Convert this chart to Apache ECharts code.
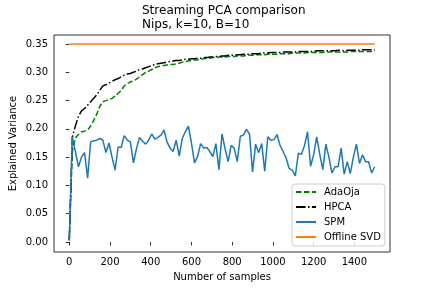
<!DOCTYPE html>
<html>
<head>
<meta charset="utf-8">
<script src="https://cdn.jsdelivr.net/npm/echarts@6/dist/echarts.min.js"></script>
<style>html,body{margin:0;padding:0;background:#fff}#c{width:432px;height:288px}</style>
</head>
<body>
<div id="c"></div>
<script>
const sampleStep = 15;
const sampleCount = 101;
const samples = Array.from({length: sampleCount}, (_, i) => i * sampleStep);

const adaOja = [0.003,0.160,0.184,0.190,0.195,0.196,0.198,0.205,0.215,0.226,
  0.240,0.248,0.250,0.252,0.254,0.258,0.263,0.268,0.276,0.280,
  0.283,0.285,0.288,0.292,0.296,0.300,0.302,0.305,0.308,0.310,
  0.311,0.312,0.313,0.314,0.314,0.315,0.316,0.318,0.319,0.320,
  0.321,0.322,0.322,0.323,0.324,0.325,0.325,0.326,0.326,0.327,
  0.327,0.327,0.328,0.328,0.328,0.329,0.329,0.329,0.330,0.330,
  0.330,0.331,0.331,0.331,0.331,0.332,0.332,0.332,0.332,0.333,
  0.333,0.333,0.333,0.334,0.334,0.334,0.334,0.334,0.335,0.335,
  0.335,0.335,0.335,0.335,0.336,0.336,0.336,0.336,0.336,0.336,
  0.336,0.336,0.337,0.337,0.337,0.337,0.337,0.337,0.337,0.337,0.337];

const hpca = [0.003,0.185,0.205,0.222,0.232,0.236,0.242,0.248,0.254,0.260,
  0.268,0.276,0.278,0.281,0.284,0.287,0.289,0.292,0.295,0.297,
  0.298,0.300,0.302,0.305,0.306,0.308,0.310,0.312,0.314,0.315,
  0.316,0.317,0.318,0.319,0.320,0.321,0.321,0.322,0.323,0.323,
  0.324,0.324,0.325,0.325,0.326,0.326,0.327,0.327,0.328,0.328,
  0.329,0.329,0.330,0.330,0.330,0.331,0.331,0.332,0.332,0.332,
  0.333,0.333,0.333,0.334,0.334,0.334,0.335,0.335,0.335,0.335,
  0.336,0.336,0.336,0.336,0.336,0.337,0.337,0.337,0.337,0.337,
  0.337,0.338,0.338,0.338,0.338,0.338,0.338,0.338,0.339,0.339,
  0.338,0.339,0.339,0.339,0.339,0.339,0.340,0.340,0.340,0.340,0.340];

const spm = [0.003,0.186,0.160,0.133,0.150,0.158,0.113,0.177,0.179,0.180,
  0.183,0.180,0.158,0.175,0.150,0.127,0.168,0.167,0.188,0.180,
  0.177,0.140,0.165,0.185,0.178,0.173,0.180,0.191,0.182,0.185,
  0.189,0.198,0.177,0.166,0.160,0.180,0.152,0.183,0.195,0.205,
  0.175,0.140,0.151,0.174,0.166,0.167,0.160,0.151,0.174,0.128,
  0.191,0.165,0.142,0.171,0.166,0.142,0.187,0.189,0.199,0.191,
  0.124,0.173,0.158,0.174,0.125,0.186,0.180,0.181,0.190,0.171,
  0.160,0.148,0.130,0.127,0.117,0.157,0.155,0.170,0.195,0.134,
  0.154,0.186,0.155,0.128,0.173,0.150,0.122,0.133,0.133,0.166,
  0.120,0.142,0.121,0.150,0.173,0.139,0.154,0.142,0.142,0.122,0.133];

const offlineSvdX = [0, 1500];
const offlineSvdValue = 0.35;

const xTicks = [0,200,400,600,800,1000,1200,1400];
const yTicks = [0.00,0.05,0.10,0.15,0.20,0.25,0.30,0.35];

const titleText = 'Streaming PCA comparison\nNips, k=10, B=10';
const xName = 'Number of samples';
const yName = 'Explained Variance';

const pair = (xs, ys) => xs.map((x, i) => [x, ys[i]]);
const FONT = 'DejaVu Sans';

const chart = echarts.init(document.getElementById('c'), null, {renderer: 'canvas'});
chart.setOption({
  animation: false,
  backgroundColor: '#fff',
  textStyle: {fontFamily: FONT},
  grid: {left: 54, right: 42, top: 35, bottom: 36, show: true, borderColor: '#000', borderWidth: 0.8,
         backgroundColor: 'transparent', containLabel: false, outerBoundsMode: 'none'},
  graphic: [{
    type: 'text', left: 222 - 80, top: 4,
    style: {text: titleText, x: 0, y: 0, fill: '#000', font: '12px "DejaVu Sans"', lineHeight: 14, align: 'center', width: 160},
  }],
  xAxis: {
    type: 'value', min: -75, max: 1575,
    name: xName, nameLocation: 'middle', nameGap: 20, nameMoveOverlap: false,
    nameTextStyle: {fontSize: 10, color: '#000', fontFamily: FONT},
    axisLine: {show: false},
    splitLine: {show: false},
    axisTick: {show: true, inside: false, length: 3.5, lineStyle: {color: '#000', width: 0.8}, customValues: xTicks},
    axisLabel: {fontSize: 10, color: '#000', margin: 5, fontFamily: FONT, customValues: xTicks, formatter: v => String(v)}
  },
  yAxis: {
    type: 'value', min: -0.0177, max: 0.366,
    name: yName, nameLocation: 'middle', nameGap: 36, nameRotate: 90, nameMoveOverlap: false,
    nameTextStyle: {fontSize: 10, color: '#000', fontFamily: FONT},
    axisLine: {show: false},
    splitLine: {show: false},
    axisTick: {show: true, inside: false, length: 3.5, lineStyle: {color: '#000', width: 0.8}, customValues: yTicks},
    axisLabel: {fontSize: 10, color: '#000', margin: 6, fontFamily: FONT, customValues: yTicks, formatter: v => v.toFixed(2)}
  },
  legend: {
    orient: 'vertical', left: 292, top: 184,
    padding: [3, 4, 4, 3], itemGap: 5, itemWidth: 20, itemHeight: 10,
    borderColor: '#cccccc', borderWidth: 1, borderRadius: 3, backgroundColor: 'rgba(255,255,255,0.8)',
    itemStyle: {color: 'rgba(0,0,0,0)', borderWidth: 0, opacity: 0},
    textStyle: {fontSize: 10, color: '#000', fontFamily: FONT, padding: [0, 0, 0, 3]},
    data: ['AdaOja', 'HPCA', 'SPM', 'Offline SVD']
  },
  series: [
    {name: 'AdaOja', type: 'line', data: pair(samples, adaOja), symbol: 'none', color: '#008000',
     lineStyle: {width: 1.5, color: '#008000', type: [5.5, 2.4]}},
    {name: 'HPCA', type: 'line', data: pair(samples, hpca), symbol: 'none', color: '#000000',
     lineStyle: {width: 1.5, color: '#000000', type: [9.6, 2.4, 1.5, 2.4]}},
    {name: 'SPM', type: 'line', data: pair(samples, spm), symbol: 'none', color: '#1f77b4',
     lineStyle: {width: 1.5, color: '#1f77b4'}},
    {name: 'Offline SVD', type: 'line', data: offlineSvdX.map(x => [x, offlineSvdValue]), symbol: 'none', color: '#ff7f0e',
     lineStyle: {width: 1.5, color: '#ff7f0e'}}
  ]
});
</script>
</body>
</html>
